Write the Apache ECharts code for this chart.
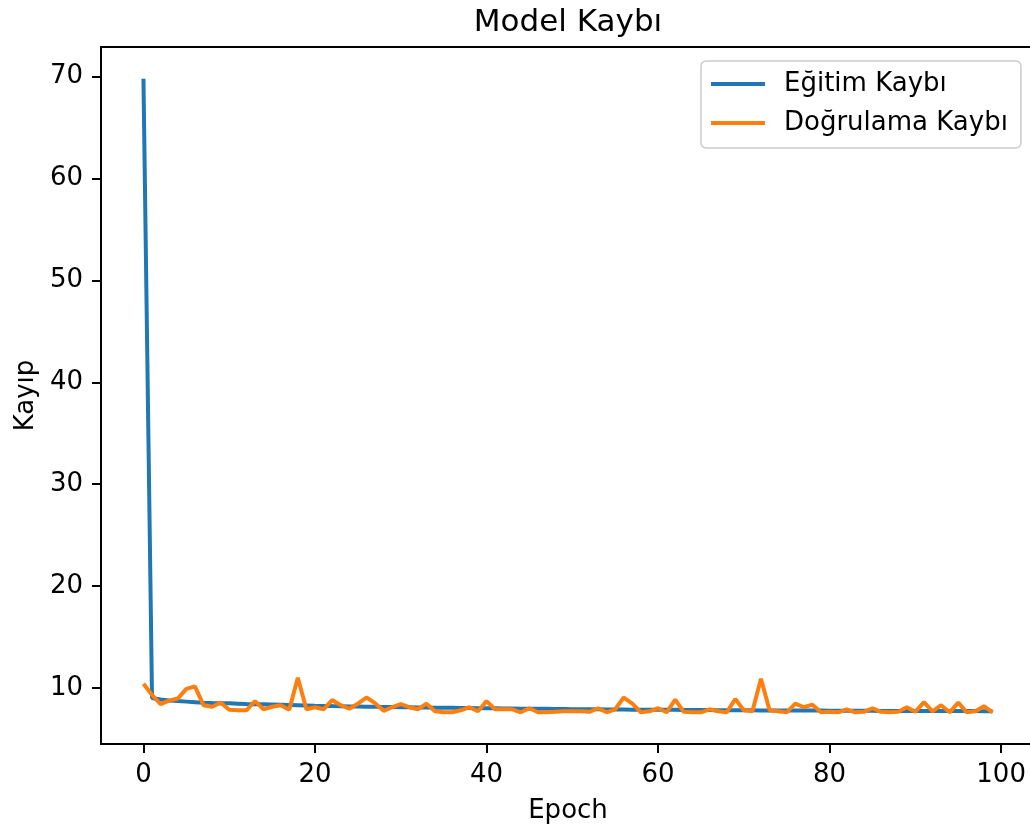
<!DOCTYPE html>
<html>
<head>
<meta charset="utf-8">
<script src="https://cdn.jsdelivr.net/npm/echarts@6/dist/echarts.min.js"></script>
<style>
  body { margin: 0; background: #fff; }
  #chart { width: 1030px; height: 829px; }
</style>
</head>
<body>
<div id="chart"></div>
<script>
// değerler
const trainLoss = [
  69.8, 9.0, 8.85, 8.75, 8.7, 8.65, 8.6, 8.55, 8.52, 8.5,
  8.48, 8.45, 8.42, 8.4, 8.38, 8.36, 8.34, 8.32, 8.3, 8.28,
  8.25, 8.23, 8.21, 8.2, 8.18, 8.17, 8.15, 8.14, 8.13, 8.12,
  8.1, 8.09, 8.08, 8.07, 8.06, 8.05, 8.04, 8.03, 8.02, 8.01,
  8.0, 7.99, 7.98, 7.97, 7.96, 7.95, 7.94, 7.94, 7.93, 7.92,
  7.91, 7.9, 7.9, 7.89, 7.88, 7.88, 7.87, 7.86, 7.86, 7.85,
  7.85, 7.84, 7.84, 7.83, 7.83, 7.82, 7.82, 7.81, 7.81, 7.8,
  7.8, 7.8, 7.79, 7.79, 7.78, 7.78, 7.78, 7.77, 7.77, 7.77,
  7.76, 7.76, 7.76, 7.75, 7.75, 7.75, 7.74, 7.74, 7.74, 7.74,
  7.73, 7.73, 7.73, 7.73, 7.72, 7.72, 7.72, 7.72, 7.71, 7.71
];
const valLoss = [
  10.4, 9.3, 8.4, 8.75, 8.95, 9.9, 10.15, 8.3, 8.15, 8.55,
  7.85, 7.8, 7.8, 8.7, 7.9, 8.15, 8.3, 7.85, 11.0, 7.9,
  8.1, 7.9, 8.8, 8.3, 7.95, 8.45, 9.05, 8.5, 7.75, 8.1,
  8.4, 8.1, 7.9, 8.45, 7.7, 7.6, 7.6, 7.8, 8.1, 7.7,
  8.7, 7.9, 7.9, 7.9, 7.6, 8.0, 7.6, 7.6, 7.65, 7.7,
  7.7, 7.7, 7.65, 8.0, 7.6, 7.9, 9.05, 8.45, 7.6, 7.7,
  8.0, 7.6, 8.85, 7.65, 7.6, 7.6, 7.9, 7.7, 7.6, 8.9,
  7.8, 7.7, 10.9, 7.8, 7.7, 7.6, 8.45, 8.1, 8.35, 7.6,
  7.65, 7.6, 7.9, 7.6, 7.65, 8.0, 7.65, 7.6, 7.65, 8.1,
  7.65, 8.6, 7.7, 8.3, 7.6, 8.55, 7.6, 7.7, 8.2, 7.6
];
const xTicks = [0, 20, 40, 60, 80, 100];
const yTicks = [10, 20, 30, 40, 50, 60, 70];

const font = 'DejaVu Sans';
let chart = echarts.init(document.getElementById('chart'));

let option = {
  animation: false,
  title: {
    text: 'Model Kaybı',
    left: 563,
    textAlign: 'center',
    top: 2,
    textStyle: { fontFamily: font, fontSize: 31, fontWeight: 'normal', color: '#000' }
  },
  legend: {
    orient: 'vertical',
    left: 701,
    top: 61,
    padding: [10, 13, 12, 8],
    itemWidth: 54,
    itemHeight: 14,
    itemGap: 13,
    itemStyle: { opacity: 0 },
    lineStyle: { width: 4 },
    borderColor: '#cccccc',
    borderWidth: 1.5,
    borderRadius: 5,
    backgroundColor: 'rgba(255,255,255,0.8)',
    textStyle: { fontFamily: font, fontSize: 26, color: '#000', padding: [0, 0, 0, 14] },
    data: ['Eğitim Kaybı', 'Doğrulama Kaybı']
  },
  grid: {
    left: 101,
    top: 47,
    width: 934,
    height: 697,
    outerBoundsMode: 'none',
    containLabel: false,
    show: true,
    borderColor: '#000',
    borderWidth: 2
  },
  xAxis: {
    type: 'value',
    min: -4.95,
    max: 103.95,
    name: 'Epoch',
    nameLocation: 'middle',
    nameGap: 54,
    nameTextStyle: { fontFamily: font, fontSize: 26, color: '#000' },
    axisLine: { show: true, onZero: false, lineStyle: { color: '#000', width: 2 } },
    axisTick: { show: true, length: 9, lineStyle: { color: '#000', width: 2 }, customValues: xTicks },
    axisLabel: { fontFamily: font, fontSize: 26, color: '#000', margin: 18, customValues: xTicks },
    splitLine: { show: false }
  },
  yAxis: {
    type: 'value',
    min: 4.49,
    max: 72.91,
    name: 'Kayıp',
    nameLocation: 'middle',
    nameGap: 62,
    nameRotate: 90,
    nameTextStyle: { fontFamily: font, fontSize: 26, color: '#000' },
    axisLine: { show: true, onZero: false, lineStyle: { color: '#000', width: 2 } },
    axisTick: { show: true, length: 9, lineStyle: { color: '#000', width: 2 }, customValues: yTicks },
    axisLabel: { fontFamily: font, fontSize: 26, color: '#000', margin: 18, customValues: yTicks },
    splitLine: { show: false }
  },
  series: [
    {
      name: 'Eğitim Kaybı',
      type: 'line',
      symbol: 'none',
      color: '#1f77b4',
      lineStyle: { width: 4 },
      data: trainLoss.map((v, i) => [i, v])
    },
    {
      name: 'Doğrulama Kaybı',
      type: 'line',
      symbol: 'none',
      color: '#ff7f0e',
      lineStyle: { width: 4 },
      data: valLoss.map((v, i) => [i, v])
    }
  ]
};
option && chart.setOption(option);
</script>
</body>
</html>
